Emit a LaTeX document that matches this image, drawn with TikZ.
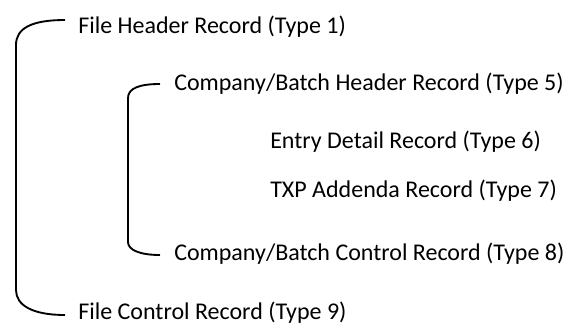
\documentclass[tikz,border=0pt]{standalone}
\usepackage{fontspec}
\setmainfont{Carlito}
\usepackage{tikz}

\begin{document}
\begin{tikzpicture}[x=0.75pt,y=-0.75pt,
  rec/.style={anchor=base west,inner sep=0pt,font=\fontsize{18}{21}\selectfont},
  bracket/.style={line width=1.4pt}]
\useasboundingbox (0,0) rectangle (575,326);

\node[rec] (fhead) at (78,33) {File Header Record (Type 1)};
\node[rec] (bhead) at (174,90) {Company/Batch Header Record (Type 5)};
\node[rec] (entry) at (270,148) {Entry Detail Record (Type 6)};
\node[rec] (addenda) at (270,197) {TXP Addenda Record (Type 7)};
\node[rec] (bctrl) at (174,260) {Company/Batch Control Record (Type 8)};
\node[rec] (fctrl) at (78,319) {File Control Record (Type 9)};

% file level bracket
\coordinate (ftop) at (65,20);
\coordinate (fbot) at (65,315);
\draw[bracket] (ftop) .. controls (32,20) and (16,28) .. (16,45)
  -- (16,290) .. controls (16,305) and (32,315) .. (fbot);

% batch level bracket
\coordinate (btop) at (160,84);
\coordinate (bbot) at (160,255);
\draw[bracket] (btop) .. controls (140,84) and (128,88) .. (128,98)
  -- (128,242) .. controls (128,250) and (140,255) .. (bbot);
\end{tikzpicture}
\end{document}
